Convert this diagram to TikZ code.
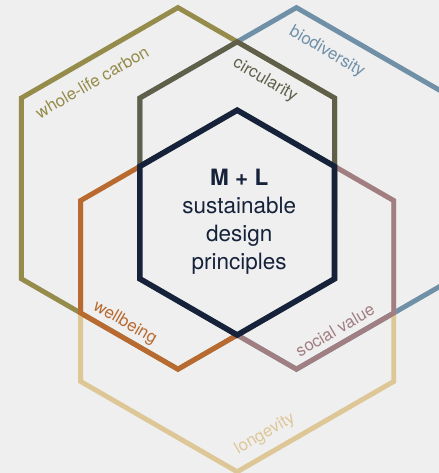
\documentclass[tikz,border=0pt]{standalone}
\usepackage{fontspec}
\setmainfont{TeX Gyre Heros}
\usepackage{tikz}
\usetikzlibrary{shapes.geometric, positioning, calc}
\definecolor{paper}{HTML}{EFEFEF}
\definecolor{navy}{HTML}{15223A}
\definecolor{carboncol}{HTML}{958B4B}
\definecolor{circcol}{HTML}{5F5F4A}
\definecolor{biocol}{HTML}{7090A8}
\definecolor{wellcol}{HTML}{B86A30}
\definecolor{socialcol}{HTML}{A17E82}
\definecolor{longcol}{HTML}{DEC797}
\tikzstyle{hexa} = [regular polygon, regular polygon sides=6, regular polygon rotate=30, inner sep=0pt, line width=3.5pt]

\begin{document}
\begin{tikzpicture}
	[tag/.style={font=\fontsize{12}{14}\selectfont, inner sep=0pt},
	small/.style={hexa, minimum size=5.62cm},
	large/.style={hexa, minimum size=9.04cm}]
	\useasboundingbox (0,0) rectangle (10.975,11.825);
	\clip (0,0) rectangle (10.975,11.825);
	\fill[paper] (0,0) rectangle (10.975,11.825);
	\coordinate (centre) at (5.93, 6.26);

	% outer ring
	\node (biodiversity) [large, draw=biocol] at ($(centre)+(30:1.71)$) {};
	\node (carbon) [large, draw=carboncol] at ($(centre)+(150:1.71)$) {};
	\node (longevity) [large, draw=longcol] at ($(centre)+(270:1.71)$) {};

	% inner ring
	\node (circularity) [small, draw=circcol] at ($(centre)+(90:1.71)$) {};
	\node (wellbeing) [small, draw=wellcol] at ($(centre)+(210:1.71)$) {};
	\node (social) [small, draw=socialcol] at ($(centre)+(330:1.71)$) {};

	\node (core) [small, draw=navy, fill=paper, line width=4pt] at (centre) {};
	\node (title) [align=center, text=navy, font=\fontsize{16}{20}\selectfont] at (5.98, 6.28)
		{\textbf{M + L}\\sustainable\\design\\principles};

	\node (carbontag) [tag, text=carboncol, rotate=30] at (2.30, 9.775) {whole-life carbon};
	\node (circtag) [tag, text=circcol, rotate=-30] at (6.625, 9.825) {circularity};
	\node (biotag) [tag, text=biocol, rotate=-30] at (8.175, 10.525) {biodiversity};
	\node (welltag) [tag, text=wellcol, rotate=-30] at (3.125, 3.75) {wellbeing};
	\node (socialtag) [tag, text=socialcol, rotate=30] at (8.375, 3.575) {social value};
	\node (longtag) [tag, text=longcol, rotate=30] at (6.625, 0.975) {longevity};
\end{tikzpicture}
\end{document}
